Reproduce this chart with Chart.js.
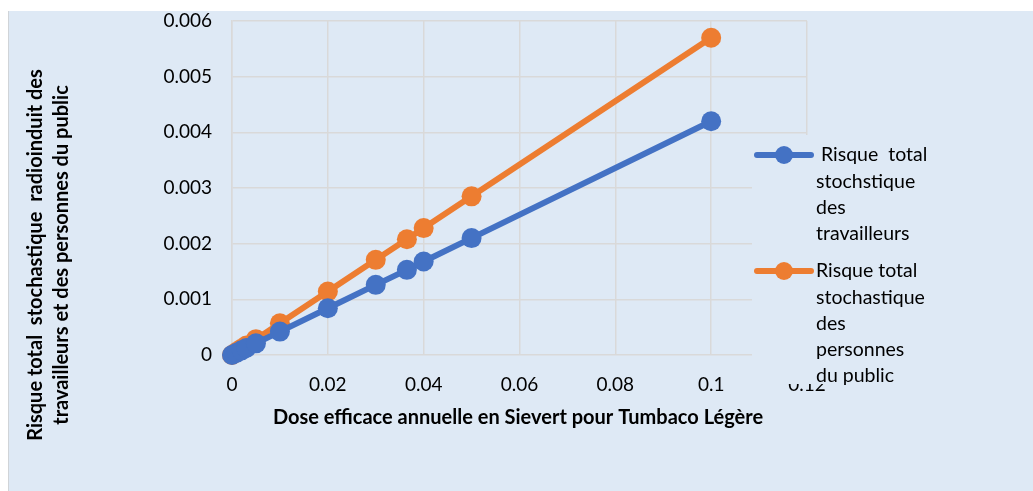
<!DOCTYPE html>
<html>
<head>
<meta charset="utf-8">
<script src="https://cdn.jsdelivr.net/npm/chart.js@4.4.1/dist/chart.umd.min.js"></script>
<style>
  html, body { margin: 0; padding: 0; background: #ffffff; }
  #wrap { width: 1033px; height: 491px; position: relative; }
</style>
</head>
<body>
<div id="wrap"><canvas id="c" width="1033" height="491"></canvas></div>
<script>
// Annual effective dose (Sv)
const doses = [0, 0.001, 0.002, 0.003, 0.005, 0.01, 0.02, 0.03, 0.0365, 0.04, 0.05, 0.1];
// Total stochastic risk, workers
const riskWorkers = [0, 0.000042, 0.000084, 0.000126, 0.00021, 0.00042, 0.00084, 0.00126, 0.00153, 0.00168, 0.0021, 0.0042];
// Total stochastic risk, members of the public
const riskPublic = [0, 0.000057, 0.000114, 0.000171, 0.000285, 0.00057, 0.00114, 0.00171, 0.00208, 0.00228, 0.00285, 0.0057];

const xTicks = [0, 0.02, 0.04, 0.06, 0.08, 0.1, 0.12];
const yTicks = [0, 0.001, 0.002, 0.003, 0.004, 0.005, 0.006];

const seriesNames = [
  ['Risque  total', 'stochstique', 'des', 'travailleurs'],
  ['Risque total', 'stochastique', 'des', 'personnes', 'du public']
];
const yTitle = ['Risque total  stochastique  radioinduit des', 'travailleurs et des personnes du public'];
const xTitle = 'Dose efficace annuelle en Sievert pour Tumbaco Légère';

const BLUE = '#4472c4';
const ORANGE = '#ed7d31';
const PANEL = '#dee9f5';
const FONT = 'Lato, "Open Sans", sans-serif';

const pairs = (xs, ys) => xs.map((x, i) => ({ x: x, y: ys[i] }));

const decor = {
  id: 'decor',
  beforeDraw(chart) {
    const ctx = chart.ctx;
    ctx.save();
    ctx.fillStyle = '#ffffff';
    ctx.fillRect(0, 0, chart.width, chart.height);
    ctx.fillStyle = PANEL;
    ctx.fillRect(8, 11, chart.width - 8, chart.height - 11);
    ctx.fillStyle = '#d0d4d8';
    ctx.fillRect(8, 11, 1, chart.height - 11);
    ctx.restore();
  },
  afterDraw(chart) {
    const ctx = chart.ctx;
    ctx.save();
    ctx.fillStyle = '#000000';
    // axis titles
    ctx.font = 'bold 20px ' + FONT;
    ctx.textAlign = 'center';
    ctx.textBaseline = 'middle';
    ctx.fillText(xTitle, 518, 418);
    ctx.save();
    ctx.translate(36, 255);
    ctx.rotate(-Math.PI / 2);
    ctx.fillText(yTitle[0], 0, 0);
    ctx.fillText(yTitle[1], 0, 26);
    ctx.restore();

    // legend box sits over the right end of the x axis labels
    ctx.fillStyle = PANEL;
    ctx.fillRect(752, 135, 230, 249);

    const items = [
      { color: BLUE, y: 155, lines: seriesNames[0], firstX: 821 },
      { color: ORANGE, y: 271, lines: seriesNames[1], firstX: 816 }
    ];
    ctx.font = '19.5px ' + FONT;
    ctx.textAlign = 'left';
    items.forEach(it => {
      ctx.strokeStyle = it.color;
      ctx.lineWidth = 6;
      ctx.lineCap = 'round';
      ctx.beginPath();
      ctx.moveTo(757, it.y);
      ctx.lineTo(811, it.y);
      ctx.stroke();
      ctx.fillStyle = it.color;
      ctx.beginPath();
      ctx.arc(784, it.y, 9, 0, Math.PI * 2);
      ctx.fill();
      ctx.fillStyle = '#000000';
      it.lines.forEach((t, i) => {
        ctx.fillText(t, i === 0 ? it.firstX : 816, it.y + i * 26.3);
      });
    });
    ctx.restore();
  }
};

new Chart(document.getElementById('c'), {
  type: 'scatter',
  data: {
    datasets: [
      {
        label: seriesNames[0].join(' '),
        data: pairs(doses, riskWorkers),
        showLine: true,
        clip: false,
        borderColor: BLUE,
        backgroundColor: BLUE,
        borderWidth: 6,
        pointRadius: 10,
        pointHoverRadius: 10,
        pointBorderWidth: 0
      },
      {
        label: seriesNames[1].join(' '),
        data: pairs(doses, riskPublic),
        showLine: true,
        clip: false,
        borderColor: ORANGE,
        backgroundColor: ORANGE,
        borderWidth: 6,
        pointRadius: 10,
        pointHoverRadius: 10,
        pointBorderWidth: 0
      }
    ]
  },
  options: {
    responsive: false,
    animation: false,
    events: [],
    layout: { padding: { left: 0, top: 21, right: 226, bottom: 0 } },
    plugins: { legend: { display: false }, tooltip: { enabled: false } },
    scales: {
      x: {
        type: 'linear',
        min: 0,
        max: 0.12,
        afterBuildTicks(scale) { scale.ticks = xTicks.map(v => ({ value: v })); },
        afterFit(scale) { scale.height = 136; scale.paddingLeft = 0; scale.paddingRight = 0; },
        ticks: {
          font: { family: FONT, size: 19 },
          color: '#000000',
          padding: 18,
          maxRotation: 0,
          callback: v => String(v)
        },
        grid: { color: '#d9d9d9', lineWidth: 1.5, drawTicks: false },
        border: { display: false }
      },
      y: {
        type: 'linear',
        min: 0,
        max: 0.006,
        afterBuildTicks(scale) { scale.ticks = yTicks.map(v => ({ value: v })); },
        afterFit(scale) { scale.width = 232; scale.paddingTop = 0; scale.paddingBottom = 0; },
        ticks: {
          font: { family: FONT, size: 19 },
          color: '#000000',
          padding: 20,
          callback: v => String(v)
        },
        grid: { color: '#d9d9d9', lineWidth: 1.5, drawTicks: false },
        border: { display: true, color: '#d9d9d9', width: 1.5 }
      }
    }
  },
  plugins: [decor]
});
</script>
</body>
</html>
